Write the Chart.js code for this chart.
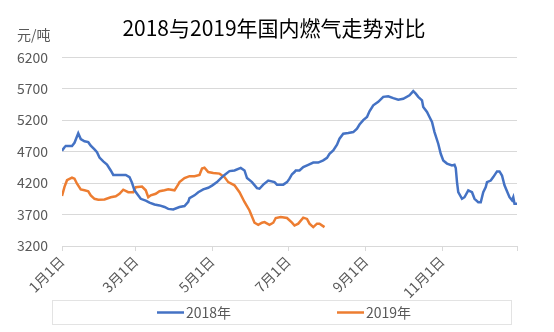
<!DOCTYPE html>
<html>
<head>
<meta charset="utf-8">
<script src="https://cdn.jsdelivr.net/npm/chart.js@4/dist/chart.umd.min.js"></script>
<style>
  body { margin: 0; background: #fff; }
  #wrap { width: 554px; height: 332px; }
</style>
</head>
<body>
<div id="wrap"><canvas id="canvas"></canvas></div>
<script>
// 国内燃气价格 (元/吨)，横轴按年内天数 (1月1日 = 0)
var days2018 = [0, 2, 3, 8, 10, 13, 15, 18, 21, 23, 26, 28, 30, 33, 36, 39, 41, 51, 54, 56, 58, 60, 63, 67, 70, 74, 78, 82, 85, 89,
    94, 98, 101, 102, 106, 109, 113, 117, 120, 124, 128, 130, 134, 138, 143, 146, 148, 152, 156, 158, 161, 165, 170, 172, 177, 180,
    182, 184, 186, 187, 190, 193, 197, 201, 205, 209, 212, 214, 217, 220, 222, 225, 229, 233, 236, 238, 241, 244, 246, 249, 253,
    257, 261, 265, 269, 273, 278, 281, 283, 285, 288, 289, 292, 294, 296, 298, 301, 303, 305, 308, 312, 314, 315, 316, 317, 320,
    322, 325, 328, 330, 333, 335, 337, 339, 340, 343, 345, 348, 350, 352, 354, 356, 358, 360, 361, 362, 364];
var price2018 = [4715, 4770, 4790, 4790, 4840, 4990, 4900, 4865, 4850, 4795, 4735, 4690, 4605, 4545, 4495, 4400, 4330, 4330, 4295, 4205, 4085, 4030, 3950, 3920, 3890, 3860, 3845, 3820, 3790, 3780,
    3820, 3835, 3900, 3960, 4005, 4055, 4100, 4125, 4160, 4215, 4295, 4330, 4390, 4400, 4440, 4400, 4280, 4215, 4120, 4110, 4175, 4240, 4215, 4175, 4175, 4215,
    4270, 4340, 4375, 4400, 4400, 4455, 4490, 4525, 4525, 4560, 4600, 4665, 4720, 4810, 4905, 4985, 4995, 5010, 5065, 5130, 5200, 5250, 5340, 5435, 5490,
    5570, 5580, 5550, 5525, 5540, 5595, 5660, 5620, 5570, 5515, 5410, 5330, 5250, 5170, 5010, 4825, 4665, 4560, 4510, 4480, 4490, 4440, 4215, 4055, 3950,
    3975, 4085, 4055, 3950, 3895, 3895, 4055, 4135, 4215, 4240, 4295, 4385, 4385, 4320, 4165, 4070, 3975, 3925, 3975, 3870, 3870];

var days2019 = [0, 2, 4, 8, 10, 12, 15, 18, 21, 23, 26, 29, 34, 39, 43, 46, 49, 53, 57, 59, 64, 67, 69, 71, 75, 78, 82, 85, 90,
    93, 94, 98, 102, 106, 110, 112, 114, 117, 121, 126, 130, 133, 138, 142, 146, 150, 154, 157, 160, 162, 166, 169, 171, 175,
    180, 184, 186, 189, 193, 196, 198, 201, 204, 206, 210];
var price2019 = [3995, 4140, 4245, 4285, 4270, 4190, 4100, 4085, 4070, 4005, 3950, 3935, 3940, 3975, 3990, 4030, 4095, 4055, 4055, 4135, 4145, 4085, 3975, 4005, 4030, 4070, 4085, 4100, 4085,
    4180, 4215, 4280, 4310, 4310, 4330, 4430, 4445, 4375, 4360, 4350, 4295, 4215, 4165, 4055, 3900, 3765, 3570, 3535, 3570, 3580, 3535, 3570, 3645, 3660,
    3645, 3570, 3525, 3555, 3650, 3630, 3555, 3500, 3555, 3555, 3500];

// 横轴刻度：天数 -> 标签
var tickDays = [0, 59, 120, 181, 243, 304, 364];
var tickLabels = ["1月1日", "3月1日", "5月1日", "7月1日", "9月1日", "11月1日", ""];

var FONT = '"Microsoft YaHei", "Noto Sans CJK SC", sans-serif';
var GREY = '#595959';

function toPoints(xs, ys) {
    return xs.map(function (d, i) { return { x: d, y: ys[i] }; });
}

// 单位文字和底部图例
var extras = {
    id: 'extras',
    afterDraw: function (chart) {
        var ctx = chart.ctx;
        ctx.save();
        ctx.font = '14px ' + FONT;
        ctx.fillStyle = GREY;
        ctx.textBaseline = 'middle';
        ctx.textAlign = 'left';
        ctx.fillText('元/吨', 17, 35);

        ctx.strokeStyle = '#e3e3e3';
        ctx.lineWidth = 1;
        ctx.strokeRect(52.5, 300.5, 459, 24);

        var startX = [157, 337];
        chart.data.datasets.forEach(function (ds, i) {
            var x = startX[i], y = 312.5;
            ctx.strokeStyle = ds.borderColor;
            ctx.lineWidth = 2.5;
            ctx.beginPath();
            ctx.moveTo(x, y);
            ctx.lineTo(x + 27, y);
            ctx.stroke();
            ctx.fillStyle = GREY;
            ctx.fillText(ds.label, x + 29, y);
        });
        ctx.restore();
    }
};

var config = {
    type: 'line',
    data: {
        datasets: [{
            label: '2018年',
            data: toPoints(days2018, price2018),
            borderColor: '#4472C4',
            backgroundColor: '#4472C4',
            borderWidth: 2.5,
            pointRadius: 0,
            tension: 0
        }, {
            label: '2019年',
            data: toPoints(days2019, price2019),
            borderColor: '#ED7D31',
            backgroundColor: '#ED7D31',
            borderWidth: 2.5,
            pointRadius: 0,
            tension: 0
        }]
    },
    options: {
        responsive: true,
        maintainAspectRatio: false,
        animation: false,
        layout: { padding: { left: 0, right: 6, top: 0, bottom: 0 } },
        plugins: {
            legend: { display: false },
            tooltip: { enabled: false },
            title: {
                display: true,
                text: '2018与2019年国内燃气走势对比',
                color: '#000',
                font: { family: FONT, size: 21, weight: 'normal' },
                padding: { top: 15, bottom: 17 }
            }
        },
        scales: {
            x: {
                type: 'linear',
                min: 0,
                max: 364,
                afterBuildTicks: function (scale) {
                    scale.ticks = tickDays.map(function (d) { return { value: d }; });
                },
                afterFit: function (scale) { scale.height = 86; },
                ticks: {
                    autoSkip: false,
                    minRotation: 45,
                    maxRotation: 45,
                    color: GREY,
                    font: { family: FONT, size: 14 },
                    padding: 2,
                    callback: function (value) {
                        var i = tickDays.indexOf(value);
                        return i >= 0 ? tickLabels[i] : '';
                    }
                },
                grid: {
                    drawOnChartArea: false,
                    drawTicks: true,
                    tickLength: 5,
                    color: '#d9d9d9'
                },
                border: { display: true, color: '#d9d9d9' }
            },
            y: {
                min: 3200,
                max: 6200,
                afterFit: function (scale) { scale.width = 62; },
                ticks: {
                    stepSize: 500,
                    color: GREY,
                    padding: 14,
                    font: { family: FONT, size: 14 },
                    callback: function (value) { return String(value); }
                },
                grid: { color: '#d9d9d9', drawTicks: false },
                border: { display: false }
            },
            // 右侧留白
            yRight: {
                position: 'right',
                afterFit: function (scale) { scale.width = 31; },
                ticks: { display: false },
                grid: { display: false },
                border: { display: false }
            }
        }
    },
    plugins: [extras]
};

window.onload = function () {
    window.myChart = new Chart(document.getElementById('canvas'), config);
};
</script>
</body>
</html>
